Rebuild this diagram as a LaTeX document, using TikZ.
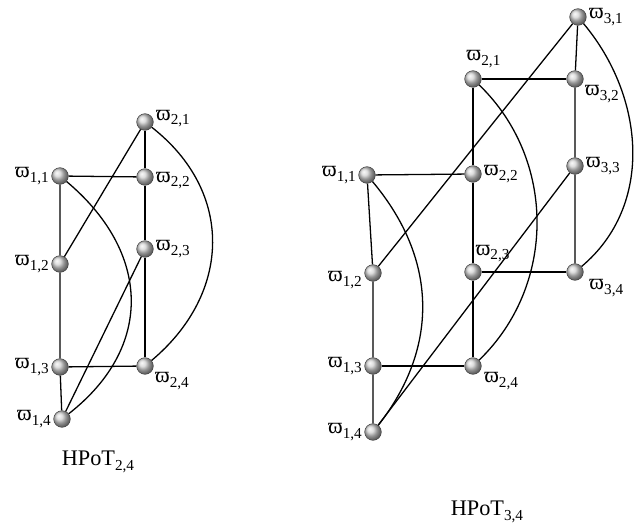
\documentclass[tikz,border=0pt]{standalone}
\usepackage{fontspec}
\setmainfont{Liberation Serif}
\usetikzlibrary{positioning}

% label: varpi with a lowered index pair
\newcommand{\vp}[2]{ϖ\raisebox{-0.45ex}{\fontsize{13}{13}\selectfont #1,#2}}

\begin{document}
\begin{tikzpicture}[
  x=0.03cm, y=0.03cm,
  font=\fontsize{19}{22}\selectfont,
  ball/.style={circle, inner sep=0pt, minimum size=0.5cm, shading=ball,
               ball color=gray!35, draw=black!75, line width=0.4pt},
  ln/.style={line width=1.1pt},
  every label/.style={inner sep=1pt},
  label distance=1pt
]
\useasboundingbox (0,0) rectangle (639,528);

% HPoT(2,4)
\node[ball, label=left:{\vp{1}{1}}] (l11) at (60,352) {};
\node[ball, label=left:{\vp{1}{2}}] (l12) at (60,264) {};
\node[ball, label=left:{\vp{1}{3}}] (l13) at (60,161) {};
\node[ball, label=left:{\vp{1}{4}}] (l14) at (62,109) {};
\node[ball, label={[yshift=3pt]right:{\vp{2}{1}}}] (l21) at (145,406) {};
\node[ball, label={[yshift=-3pt]right:{\vp{2}{2}}}] (l22) at (145,351) {};
\node[ball, label=right:{\vp{2}{3}}] (l23) at (145,279) {};
\node[ball, label={[label distance=-1pt, xshift=3pt]below right:{\vp{2}{4}}}] (l24) at (145,162) {};

\draw[ln] (l11) -- (l12) -- (l13) -- (l14);
\draw[ln] (l21) -- (l22) -- (l23) -- (l24);
\draw[ln] (l11) -- (l22);
\draw[ln] (l13) -- (l24);
\draw[ln] (l21) -- (l12);
\draw[ln] (l23) -- (l14);
\draw[ln] (l11) to[out=-40, in=38, looseness=1.2] (l14);
\draw[ln] (l21) to[out=-38, in=40, looseness=1.15] (l24);

\node (t1) at (98,66) {HPoT\raisebox{-0.45ex}{\fontsize{13}{13}\selectfont 2,4}};

% HPoT(3,4)
\node[ball, label=left:{\vp{1}{1}}] (r11) at (367,353) {};
\node[ball, label={[yshift=-6pt]left:{\vp{1}{2}}}] (r12) at (373,255) {};
\node[ball, label=left:{\vp{1}{3}}] (r13) at (373,162) {};
\node[ball, label=left:{\vp{1}{4}}] (r14) at (373,96) {};
\node[ball, label={[xshift=9pt]above:{\vp{2}{1}}}] (r21) at (473,449) {};
\node[ball, label=right:{\vp{2}{2}}] (r22) at (473,354) {};
\node[ball, label={[label distance=0pt, xshift=-4pt, yshift=2pt]above right:{\vp{2}{3}}}] (r23) at (473,256) {};
\node[ball, label={[label distance=-1pt, xshift=4pt]below right:{\vp{2}{4}}}] (r24) at (473,162) {};
\node[ball, label=right:{\vp{3}{1}}] (r31) at (578,511) {};
\node[ball, label={[label distance=-1pt, xshift=3pt]below right:{\vp{3}{2}}}] (r32) at (575,449) {};
\node[ball, label=right:{\vp{3}{3}}] (r33) at (575,362) {};
\node[ball, label={[label distance=0pt, xshift=6pt]below right:{\vp{3}{4}}}] (r34) at (575,256) {};

\draw[ln] (r11) -- (r12) -- (r13) -- (r14);
\draw[ln] (r21) -- (r22) -- (r23) -- (r24);
\draw[ln] (r31) -- (r32) -- (r33) -- (r34);
\draw[ln] (r11) -- (r22);
\draw[ln] (r13) -- (r24);
\draw[ln] (r21) -- (r32);
\draw[ln] (r23) -- (r34);
\draw[ln] (r31) -- (r12);
\draw[ln] (r33) -- (r14);
\draw[ln] (r11) to[out=-50, in=52, looseness=1.05] (r14);
\draw[ln] (r21) to[out=-44, in=44, looseness=1.0] (r24);
\draw[ln] (r31) to[out=-50, in=40, looseness=1.0] (r34);

\node (t2) at (487,16) {HPoT\raisebox{-0.45ex}{\fontsize{13}{13}\selectfont 3,4}};
\end{tikzpicture}
\end{document}
